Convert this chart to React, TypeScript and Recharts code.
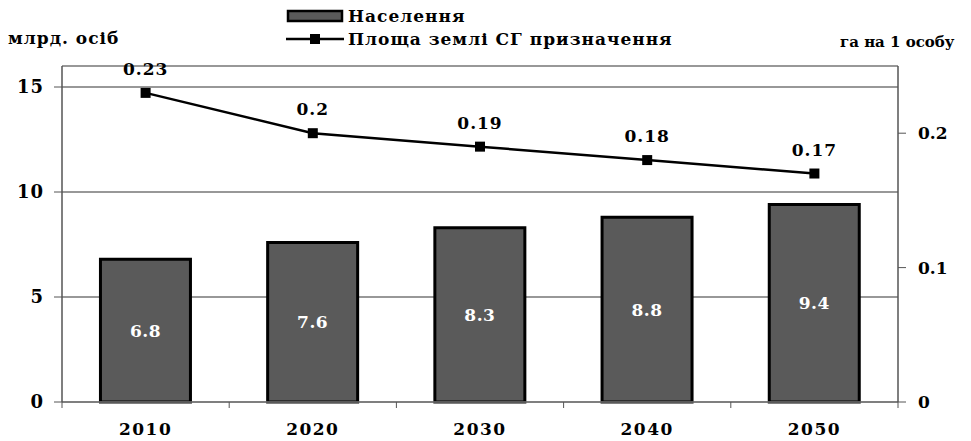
import { ComposedChart, Bar, Line, XAxis, YAxis, CartesianGrid, LabelList } from "recharts";

const years = ["2010", "2020", "2030", "2040", "2050"];
const population = [6.8, 7.6, 8.3, 8.8, 9.4];
const landPerPerson = [0.23, 0.2, 0.19, 0.18, 0.17];
const leftTicks = [0, 5, 10, 15];
const rightTicks = [0, 0.1, 0.2];

const data = years.map((year, i) => ({ year, pop: population[i], land: landPerPerson[i] }));

const font = "DejaVu Serif, serif";
const W = 971;
const H = 441;
const LEFT_W = 62;
const RIGHT_W = 73;
const band = (W - LEFT_W - RIGHT_W) / years.length;

function XTick(props: any) {
  const { x, y, payload, index } = props;
  return (
    <g>
      <line x1={x + band / 2} x2={x + band / 2} y1={y - 8} y2={y - 2} stroke="#555" />
      {index === 0 && <line x1={x - band / 2} x2={x - band / 2} y1={y - 8} y2={y - 2} stroke="#555" />}
      <text
        x={x}
        y={y + 25}
        textAnchor="middle"
        fontFamily={font}
        fontWeight="bold"
        fontSize={17}
        letterSpacing={1.5}
        fill="#000"
      >
        {payload.value}
      </text>
    </g>
  );
}

function SquareDot(props: any) {
  const { cx, cy } = props;
  return <rect x={cx - 5} y={cy - 5} width={10} height={10} fill="#000" />;
}

function LegendBox() {
  return (
    <div style={{ fontFamily: font, fontWeight: "bold", fontSize: 17, letterSpacing: 1, lineHeight: "22px" }}>
      <div style={{ display: "flex", alignItems: "center" }}>
        <svg width={62} height={14}>
          <rect x={2} y={2} width={54} height={10} fill="#5a5a5a" stroke="#000" strokeWidth={2.5} />
        </svg>
        <span>Населення</span>
      </div>
      <div style={{ display: "flex", alignItems: "center", marginTop: 1 }}>
        <svg width={62} height={14}>
          <line x1={0} x2={58} y1={7} y2={7} stroke="#000" strokeWidth={2.5} />
          <rect x={24} y={2} width={10} height={10} fill="#000" />
        </svg>
        <span>Площа землі СГ призначення</span>
      </div>
    </div>
  );
}

export default function App() {
  return (
    <div style={{ position: "absolute", left: 0, top: 0, width: W, height: H, background: "#fff" }}>
      <ComposedChart width={W} height={H} data={data} margin={{ top: 66, right: 0, bottom: 0, left: 0 }} barCategoryGap="23%">
        <CartesianGrid yAxisId="left" vertical={false} horizontal stroke="#333" strokeWidth={1.2} />
        <XAxis
          dataKey="year"
          height={39}
          tick={<XTick />}
          tickLine={false}
          axisLine={{ stroke: "#777", strokeWidth: 1.5 }}
          interval={0}
        />
        <YAxis
          yAxisId="left"
          domain={[0, 16]}
          ticks={leftTicks}
          width={LEFT_W}
          axisLine={{ stroke: "#555", strokeWidth: 1.5 }}
          tickLine={{ stroke: "#555" }}
          tickSize={8}
          tick={{ fontFamily: font, fontWeight: "bold", fontSize: 18, fill: "#000", letterSpacing: 1 }}
          tickMargin={10}
        />
        <YAxis
          yAxisId="right"
          orientation="right"
          domain={[0, 0.25]}
          ticks={rightTicks}
          width={RIGHT_W}
          axisLine={{ stroke: "#555", strokeWidth: 1.5 }}
          tickLine={{ stroke: "#555" }}
          tickSize={8}
          tick={{ fontFamily: font, fontWeight: "bold", fontSize: 17, fill: "#000" }}
          tickMargin={12}
        />
        <Bar yAxisId="left" dataKey="pop" fill="#5a5a5a" stroke="#000" strokeWidth={3} isAnimationActive={false}>
          <LabelList
            dataKey="pop"
            position="center"
            fill="#fff"
            style={{ fontFamily: font, fontWeight: "bold", fontSize: 17, letterSpacing: 0.5 }}
          />
        </Bar>
        <Line
          yAxisId="right"
          dataKey="land"
          stroke="#000"
          strokeWidth={2.5}
          dot={<SquareDot />}
          activeDot={false}
          isAnimationActive={false}
        >
          <LabelList
            dataKey="land"
            position="top"
            offset={18}
            fill="#000"
            style={{ fontFamily: font, fontWeight: "bold", fontSize: 17, letterSpacing: 1 }}
          />
        </Line>
      </ComposedChart>
      <div style={{ position: "absolute", left: 286, top: 5 }}>
        <LegendBox />
      </div>
      <div
        style={{ position: "absolute", left: 8, top: 28, fontFamily: font, fontWeight: "bold", fontSize: 17, letterSpacing: 1 }}
      >
        млрд. осіб
      </div>
      <div style={{ position: "absolute", left: 840, top: 33, fontFamily: font, fontWeight: "bold", fontSize: 15 }}>
        га на 1 особу
      </div>
    </div>
  );
}
